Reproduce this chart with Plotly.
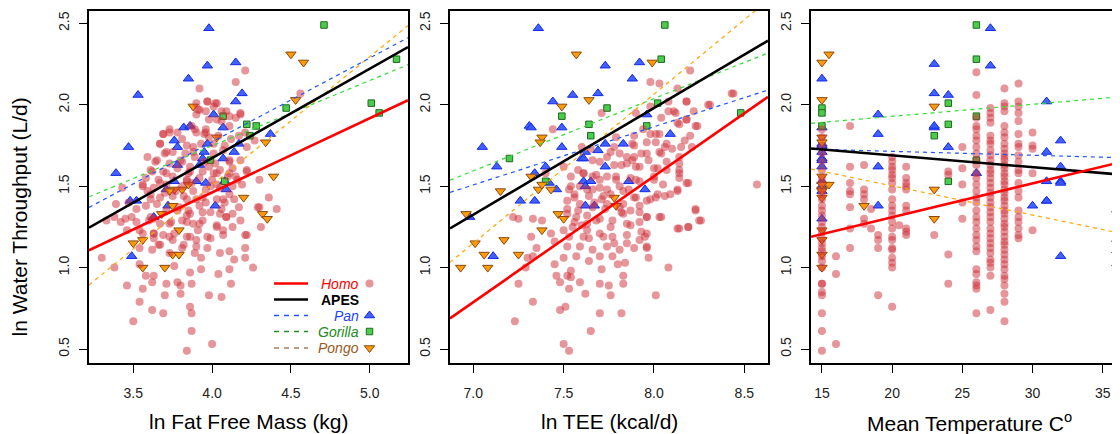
import plotly.graph_objects as go

# ---------------- data ----------------
# Homo, panel 1: ln Fat Free Mass vs ln water throughput
homo_ffm = [4.21,4.15,3.92,4.56,3.97,4.03,4.01,3.90,3.92,3.96,4.06,4.09,4.18,3.90,4.06,4.15,3.98,4.03,4.11,3.73,
            3.69,3.73,3.95,3.90,3.98,4.04,4.17,4.21,4.27,3.81,3.67,3.93,4.01,3.88,3.70,3.75,3.83,3.89,4.01,4.11,
            4.18,3.65,3.73,3.81,3.61,3.69,3.78,3.85,3.94,4.01,4.05,4.13,4.22,3.58,3.66,3.75,3.84,3.92,4.00,4.15,
            4.30,3.43,3.56,3.63,3.71,3.81,3.88,3.96,4.05,4.13,4.19,3.61,3.67,3.75,3.84,3.94,4.03,4.11,4.41,4.29,
            3.39,3.47,3.52,3.58,3.65,3.71,3.79,3.85,3.92,3.99,4.06,4.13,4.17,3.33,3.38,3.45,3.52,3.60,3.67,3.74,
            3.81,3.88,3.94,4.03,4.09,4.13,4.31,3.42,3.46,3.54,3.63,3.69,3.76,3.84,3.90,3.99,4.07,4.21,3.66,3.75,
            3.54,3.62,3.73,3.81,3.89,3.97,4.05,4.11,4.21,3.93,4.14,4.21,3.30,3.38,3.54,3.76,3.93,4.11,4.26,4.04,
            3.86,3.58,3.63,3.62,3.71,3.78,3.80,3.87,4.12,3.56,3.46,3.80,3.70,3.98,4.06,3.54,3.86,3.62,3.69,3.87,
            3.50,3.87,4.00,3.84,3.95,3.86,3.98,3.77,3.70,3.59,3.63,3.49,3.96,4.08,3.87,3.99,3.84,3.91,3.56,3.63,
            4.10,4.07,4.12,3.96,3.87,4.36,
            3.97,4.02,3.91,4.11,4.18,3.69,3.78,3.89,3.96,3.67,3.71,3.84,3.88,4.08,4.22,3.59,3.64,3.80,4.02,4.11,
            4.22,3.62,3.71,3.86,4.03,4.11,3.56,3.67,3.84,4.03,4.16,3.61,3.82,3.90,4.07,4.14,3.78,3.86,3.94,4.05,
            4.09,3.61,3.73,3.84,3.92,4.03,4.22,3.63,3.73,3.86,3.97,4.07,3.67,3.82,3.90,4.30,4.18]
homo_wt1 = [2.21,2.14,2.10,2.07,2.02,2.01,1.99,2.01,1.97,1.96,1.96,1.96,1.95,1.94,1.90,1.92,1.91,1.91,1.87,1.85,
            1.82,1.83,1.82,1.83,1.80,1.81,1.81,1.83,1.78,1.79,1.76,1.76,1.76,1.74,1.70,1.71,1.70,1.68,1.70,1.66,
            1.66,1.66,1.64,1.65,1.60,1.59,1.61,1.58,1.59,1.58,1.60,1.61,1.59,1.55,1.54,1.56,1.54,1.55,1.54,1.56,
            1.54,1.49,1.51,1.49,1.51,1.50,1.47,1.48,1.49,1.50,1.51,1.45,1.43,1.44,1.42,1.43,1.42,1.45,1.36,1.37,
            1.39,1.40,1.36,1.38,1.39,1.35,1.37,1.35,1.38,1.34,1.36,1.33,1.37,1.29,1.31,1.30,1.28,1.29,1.27,1.28,
            1.29,1.27,1.29,1.25,1.31,1.25,1.25,1.28,1.23,1.23,1.21,1.20,1.21,1.19,1.17,1.18,1.20,1.20,1.14,1.17,
            1.12,1.11,1.09,1.12,1.09,1.12,1.09,1.10,1.12,1.06,1.05,1.06,1.06,1.00,1.02,1.01,0.99,0.99,1.00,0.96,
            0.97,0.95,0.95,0.91,0.90,0.91,0.89,0.90,0.90,0.87,0.89,0.84,0.83,0.83,0.82,0.79,0.76,0.74,0.72,0.72,
            0.67,0.61,0.53,0.49,1.65,1.62,1.62,1.47,1.46,1.47,1.30,1.31,1.40,1.40,1.52,1.50,1.32,1.23,1.21,1.18,
            1.56,1.72,1.79,1.85,1.87,1.43,
            2.02,2.01,1.97,1.93,1.94,1.82,1.83,1.85,1.83,1.76,1.71,1.75,1.71,1.75,1.74,1.68,1.65,1.66,1.64,1.65,
            1.60,1.59,1.58,1.59,1.58,1.58,1.50,1.52,1.53,1.51,1.54,1.42,1.44,1.42,1.42,1.42,1.35,1.33,1.34,1.33,
            1.31,1.31,1.27,1.28,1.27,1.26,1.20,1.21,1.19,1.19,1.19,1.23,1.14,1.14,1.13,1.37,1.29]

# Homo, panel 2: ln TEE vs ln water throughput
homo_tee = [8.20,7.98,8.13,8.43,8.31,8.18,8.08,7.98,8.11,8.22,7.90,7.71,8.04,8.18,8.23,8.14,7.44,8.01,7.94,7.89,
            7.79,8.06,8.15,8.20,8.01,7.89,7.96,8.04,7.89,7.81,7.74,7.65,7.60,7.70,7.78,7.85,7.92,8.00,8.07,8.14,
            8.14,8.18,8.13,8.57,7.50,7.61,7.66,7.74,7.79,7.87,7.92,8.00,8.05,7.54,7.56,7.63,7.70,7.76,7.83,7.89,
            7.96,8.01,8.09,7.52,7.59,7.66,7.74,7.81,7.87,7.92,8.23,7.52,7.57,7.63,7.70,7.77,7.85,7.92,7.96,8.04,
            7.22,7.25,7.33,7.38,7.50,7.55,7.63,7.70,7.77,7.85,7.92,7.96,8.13,8.19,8.26,7.32,7.45,7.52,7.59,7.66,
            7.74,7.81,7.89,7.96,7.35,7.30,7.50,7.57,7.64,7.70,7.77,7.84,7.97,7.29,7.45,7.54,7.71,7.80,8.08,7.46,
            7.52,7.54,7.83,7.25,7.48,7.59,7.70,7.75,7.83,7.53,7.62,7.76,8.01,7.33,7.48,7.51,7.70,7.82,7.23,7.65,
            7.50,7.53,7.33,7.43,7.40,7.68,7.72,7.82,7.58,7.64,7.88,7.93,7.67,7.86,8.10,7.60,
            8.03,8.18,8.30,8.44,8.08,8.12,8.18,8.24,8.13,8.03,7.98,8.07,8.17,8.21,7.96,7.88,7.78,8.03,8.14,7.93,
            7.85,7.76,7.66,7.97,8.07,7.82,7.90,8.02,8.14,7.54,7.61,7.70,7.79,7.90,8.00,8.14,8.19,7.53,7.59,7.66,
            7.74,7.81,8.02,8.06,8.13,7.56,7.64,7.71,7.83,7.90,7.98,7.52,7.58,7.73,7.83,7.92,8.23,7.56,7.63,7.68,
            7.76,7.87,7.96,8.03,8.14,8.19,8.25,7.53,7.61,7.72,7.78,7.85,7.95,7.96]
homo_wt2 = [2.21,2.14,2.10,2.07,2.00,2.02,2.02,1.99,1.96,1.96,1.95,1.95,1.92,1.91,1.87,1.88,1.85,1.82,1.85,1.81,
            1.80,1.74,1.74,1.81,1.77,1.75,1.70,1.70,1.68,1.70,1.68,1.73,1.74,1.65,1.63,1.64,1.62,1.61,1.60,1.64,
            1.58,1.52,1.48,1.51,1.62,1.58,1.56,1.56,1.54,1.55,1.53,1.54,1.51,1.50,1.45,1.48,1.49,1.45,1.47,1.43,
            1.41,1.43,1.45,1.41,1.39,1.37,1.39,1.37,1.35,1.38,1.36,1.33,1.31,1.32,1.30,1.29,1.27,1.28,1.31,1.31,
            1.31,1.30,1.30,1.29,1.23,1.25,1.23,1.21,1.19,1.20,1.17,1.21,1.24,1.25,1.29,1.19,1.16,1.13,1.13,1.11,
            1.13,1.11,1.12,1.12,1.12,1.06,1.06,1.07,1.04,1.07,1.07,1.03,1.06,1.00,1.02,0.98,0.99,1.02,1.00,0.95,
            0.95,0.94,0.95,0.90,0.91,0.91,0.90,0.89,0.90,0.87,0.84,0.83,0.83,0.79,0.74,0.76,0.72,0.72,0.67,0.61,
            0.53,0.49,1.07,1.21,1.58,1.57,1.44,1.34,1.60,1.18,1.66,1.22,1.40,1.48,1.73,1.26,
            2.13,2.02,2.00,2.07,1.96,1.95,1.91,1.87,1.89,1.82,1.82,1.76,1.78,1.74,1.77,1.76,1.74,1.71,1.68,1.70,
            1.68,1.71,1.66,1.66,1.65,1.63,1.62,1.61,1.60,1.56,1.58,1.54,1.56,1.54,1.56,1.55,1.52,1.48,1.50,1.48,
            1.48,1.50,1.45,1.44,1.47,1.43,1.44,1.42,1.39,1.43,1.42,1.36,1.35,1.36,1.33,1.34,1.35,1.28,1.27,1.29,
            1.25,1.26,1.31,1.31,1.24,1.25,1.29,1.19,1.19,1.19,1.15,1.15,1.19,1.13]

# Homo, panel 3: mean temperature (columns) vs ln water throughput
homo_temp_levels = [15, 16, 17, 18, 18.5, 19, 20, 20.5, 21, 23, 24, 25, 26, 27, 28, 29, 30]
homo_wt3_by_level = [
    [0.49,0.61,0.72,0.83,0.85,0.90,0.90,1.00,1.04,1.07,1.10,1.12,1.15,1.18,1.22,1.25,1.28,1.32,1.35,1.38,
     1.42,1.45,1.48,1.52,1.55,1.60,1.65,1.70,1.75,1.80,1.85],
    [1.07,0.96,0.53],
    [1.87,1.62,1.52,1.47,1.45,1.37,1.24,1.12],
    [1.63,1.48,1.45,1.42,1.30,1.27],
    [1.36,1.24],
    [1.20,1.17,1.12,0.83],
    [1.68,1.65,1.62,1.60,1.57,1.55,1.52,1.48,1.42,1.38,1.35,1.32,1.28,1.24,1.19,1.17,1.12,1.11,1.06,1.03,
     1.00,0.76],
    [1.26],
    [1.62,1.55,1.52,1.50,1.48,1.38,1.35,1.24,1.22,1.20],
    [1.20],
    [1.59,1.57,1.08,0.90],
    [1.74,1.61,1.51,1.40,1.30],
    [2.20,2.06,1.92,1.87,1.85,1.81,1.78,1.74,1.70,1.66,1.63,1.58,1.55,1.51,1.47,1.43,1.40,1.35,1.31,1.28,
     1.24,1.20,1.17,1.13,1.10,0.99,0.96,0.91,0.89,0.87,0.72],
    [1.98,1.95,1.92,1.89,1.81,1.78,1.76,1.72,1.69,1.66,1.63,1.60,1.58,1.55,1.52,1.49,1.46,1.43,1.40,1.37,
     1.34,1.31,1.28,1.24,1.21,1.18,1.15,1.12,1.09,1.05,1.03,1.00,0.95,0.74],
    [2.10,2.01,1.99,1.96,1.87,1.83,1.80,1.76,1.73,1.70,1.68,1.66,1.63,1.61,1.58,1.56,1.53,1.51,1.48,1.46,
     1.43,1.41,1.38,1.35,1.33,1.30,1.27,1.25,1.22,1.19,1.16,1.14,1.11,1.08,1.05,1.02,0.99,0.95,0.93,0.89,
     0.84,0.79,0.67],
    [2.13,2.02,1.99,1.95,1.90,1.82,1.76,1.74,1.69,1.65,1.60,1.58,1.52,1.47,1.43,1.35,1.31,1.28,1.24,1.20,
     1.18],
    [1.83,1.75,1.73,1.58,1.23],
]

# Pan
pan_ffm = [3.98,3.97,4.15,3.85,3.53,4.19,4.15,4.01,3.82,3.86,4.07,3.47,3.76,3.78,3.97,3.95,4.14,4.17,4.37,3.39,
           3.78,3.92,3.94,4.07,3.48,3.52,3.76,3.90,3.96,4.08,4.09,3.71,3.72,4.02,3.63,3.49]
pan_wt1 = [2.47,2.24,2.26,2.16,2.06,2.07,2.02,1.94,1.86,1.87,1.86,1.74,1.78,1.74,1.76,1.71,1.71,1.76,1.82,1.58,
           1.63,1.63,1.67,1.67,1.41,1.41,1.53,1.53,1.52,1.53,1.48,1.48,1.38,1.38,1.31,1.07]
pan_tee = [7.36,7.73,7.92,7.88,7.55,7.69,7.44,7.96,7.31,7.32,7.49,8.09,7.05,7.49,7.73,7.83,7.69,7.60,7.61,7.62,
           7.13,7.40,7.34,7.73,7.42,7.46,7.61,7.65,7.62,7.86,7.95,7.26,7.34,7.62,7.67,6.98,7.11]
pan_wt2 = [2.47,2.24,2.26,2.16,2.06,2.07,2.02,1.94,1.87,1.86,1.86,1.82,1.74,1.74,1.76,1.76,1.72,1.67,1.67,1.71,
           1.62,1.62,1.58,1.62,1.52,1.48,1.53,1.53,1.50,1.53,1.48,1.41,1.41,1.38,1.38,1.31,1.07]
pan_temp = [15,23,27,27,23,24,31,19,19,23,23,24,15,15,15,15,15,15,15,15,15,15,19,19,26,31,32,32,32,32,31,31,31,30,
            32,15,15]
pan_wt3 = [2.16,2.25,2.47,2.24,2.07,2.06,2.02,1.94,1.82,1.86,1.87,1.74,1.86,1.76,1.74,1.71,1.67,1.66,1.62,1.53,
           1.47,1.30,1.62,1.38,1.58,1.71,1.78,1.62,1.53,1.52,1.53,1.41,1.41,1.38,1.07,1.75,1.50]

# Gorilla
gor_ffm = [4.71,5.17,5.01,5.06,4.47,4.07,4.22,4.28,4.24,3.99,4.08]
gor_wt1 = [2.49,2.28,2.01,1.95,1.98,1.93,1.88,1.87,1.81,1.66,1.53]
gor_tee = [8.06,8.04,7.74,8.02,7.49,7.64,7.65,7.96,8.48,7.20,7.40]
gor_wt2 = [2.49,2.28,1.98,2.01,1.93,1.88,1.81,1.87,1.95,1.67,1.53]
gor_temp = [26,26,15,15,15,24,24,23,26,26,24]
gor_wt3 = [2.49,2.28,1.98,1.95,1.87,2.01,1.88,1.81,1.93,1.66,1.53]

# Pongo
pon_ffm = [4.50,4.58,4.53,3.88,4.03,4.34,4.39,3.85,3.81,3.76,3.73,3.75,3.68,4.20,4.32,4.35,3.79,3.50,3.56,3.75,
           3.79,3.56,3.70]
pon_wt1 = [2.31,2.26,2.03,1.99,1.80,1.77,1.56,1.51,1.48,1.48,1.47,1.38,1.33,1.43,1.33,1.30,1.23,1.15,1.17,1.08,
           1.08,1.00,1.00]
pon_tee = [7.57,7.99,7.64,7.49,7.38,7.37,7.32,7.36,7.43,7.15,7.38,7.78,7.79,7.47,7.50,6.96,7.38,7.01,7.17,7.06,
           7.25,6.93,7.08]
pon_wt2 = [2.31,2.26,2.03,1.99,1.80,1.77,1.56,1.48,1.48,1.47,1.51,1.43,1.38,1.33,1.30,1.33,1.23,1.15,1.17,1.08,
           1.08,1.00,1.00]
pon_temp = [15,15.5,15,15,15,23,15,15.5,15,23,18,23,15,15,15,15,36,36,36,36,15,15,15]
pon_wt3 = [2.26,2.31,2.03,1.80,1.77,1.99,1.56,1.51,1.48,1.48,1.38,1.30,1.23,1.17,1.08,1.00,1.33,1.15,1.08,1.00,
           1.43,1.47,1.51]

# fitted regression lines: (intercept, slope) per panel, order Homo, APES, Pan, Gorilla, Pongo
fit_ffm = [(-0.358, 0.455), (-0.519, 0.548), (-0.288, 0.515), (0.144, 0.401), (-1.640, 0.787)]
fit_tee = [(-4.623, 0.773), (-3.260, 0.655), (-0.991, 0.357), (-1.514, 0.444), (-5.255, 0.915)]
fit_temp = [(0.893, 0.0208), (1.835, -0.00727), (1.762, -0.0024), (1.781, 0.0074), (1.860, -0.0179)]

x_ticks = [[3.5, 4.0, 4.5, 5.0], [7.0, 7.5, 8.0, 8.5], [15, 20, 25, 30, 35]]
x_tick_text = [["3.5", "4.0", "4.5", "5.0"], ["7.0", "7.5", "8.0", "8.5"], ["15", "20", "25", "30", "35"]]
y_ticks = [0.5, 1.0, 1.5, 2.0, 2.5]
y_tick_text = ["0.5", "1.0", "1.5", "2.0", "2.5"]
x_titles = ["ln Fat Free Mass (kg)", "ln TEE (kcal/d)", "Mean Temperature C<sup>o</sup>"]
y_title = "ln Water Throughput (L/d)"
legend_names = ["Homo", "APES", "Pan", "Gorilla", "Pongo"]

# ---------------- styling ----------------
# the page body adds an 8 px margin, so the figure is laid out in page pixels minus 8
OFF = 8
PAGE_W, PAGE_H = 1120, 434
W, H = PAGE_W - OFF, PAGE_H - OFF
FONT = "Liberation Sans, Arial, Helvetica, sans-serif"


def px(xp):
    return (xp - OFF) / W


def py(yp):
    return 1 - (yp - OFF) / H


x_ranges = [[3.219, 5.243], [6.871, 8.631], [14.22, 36.23]]
y_range = [0.414, 2.576]
x_domains = [[px(89), px(408)], [px(450), px(768)], [px(811), 1.0]]
y_domain = [py(363), py(11)]

homo_style = dict(color="rgba(205,45,55,0.5)", size=8, line=dict(width=0))
pan_style = dict(symbol="triangle-up", color="rgba(55,90,245,0.95)", size=9, line=dict(color="#1428f0", width=1))
gor_style = dict(symbol="square", color="#4ccc4c", size=6.5, line=dict(color="#1d6b1d", width=1))
pon_style = dict(symbol="triangle-down", color="#ff9a0a", size=9, line=dict(color="#8a4a10", width=1))
line_styles = [dict(color="#ff0000", width=2.6), dict(color="#000000", width=2.6),
               dict(color="#1f55ff", width=1.2, dash="4px,4px"),
               dict(color="#33dd33", width=1.2, dash="4px,4px"),
               dict(color="#ffa500", width=1.2, dash="4px,4px")]

fig = go.Figure()

homo_temp = []
homo_wt3 = []
for t, ys in zip(homo_temp_levels, homo_wt3_by_level):
    for v in ys:
        homo_temp.append(t)
        homo_wt3.append(v)

panels = [
    (homo_ffm, homo_wt1, pan_ffm, pan_wt1, gor_ffm, gor_wt1, pon_ffm, pon_wt1, fit_ffm),
    (homo_tee, homo_wt2, pan_tee, pan_wt2, gor_tee, gor_wt2, pon_tee, pon_wt2, fit_tee),
    (homo_temp, homo_wt3, pan_temp, pan_wt3, gor_temp, gor_wt3, pon_temp, pon_wt3, fit_temp),
]

for i, (hx, hy, pxs, pys, gx, gy, ox, oy, fits) in enumerate(panels):
    xa = "x" if i == 0 else f"x{i+1}"
    ya = "y" if i == 0 else f"y{i+1}"
    fig.add_trace(go.Scatter(x=pxs, y=pys, mode="markers", marker=pan_style, xaxis=xa, yaxis=ya, showlegend=False))
    fig.add_trace(go.Scatter(x=gx, y=gy, mode="markers", marker=gor_style, xaxis=xa, yaxis=ya, showlegend=False))
    fig.add_trace(go.Scatter(x=ox, y=oy, mode="markers", marker=pon_style, xaxis=xa, yaxis=ya, showlegend=False))
    fig.add_trace(go.Scatter(x=hx, y=hy, mode="markers", marker=homo_style, xaxis=xa, yaxis=ya, showlegend=False))
    x0, x1 = x_ranges[i]
    for (a, b), ls in zip(fits[::-1], line_styles[::-1]):
        fig.add_trace(go.Scatter(x=[x0, x1], y=[a + b * x0, a + b * x1], mode="lines", line=ls,
                                 xaxis=xa, yaxis=ya, showlegend=False, hoverinfo="skip"))

axis_common = dict(showgrid=False, zeroline=False, showline=True, linecolor="black", linewidth=1.6,
                   ticks="outside", ticklen=8, tickwidth=1.4, tickcolor="black",
                   tickfont=dict(family=FONT, size=14, color="#222"))
layout = dict(width=W, height=H, margin=dict(l=0, r=0, t=0, b=0),
              paper_bgcolor="white", plot_bgcolor="rgba(0,0,0,0)", showlegend=False,
              font=dict(family=FONT))
for i in range(3):
    sx = "" if i == 0 else str(i + 1)
    layout["xaxis" + sx] = dict(axis_common, domain=x_domains[i], range=x_ranges[i], anchor="y" + sx,
                                tickvals=x_ticks[i], ticktext=x_tick_text[i], mirror=True,
                                ticklabelstandoff=8, automargin=False)
    layout["yaxis" + sx] = dict(axis_common, domain=y_domain, range=y_range, anchor="x" + sx,
                                tickvals=y_ticks, ticktext=y_tick_text, tickangle=-90,
                                mirror=(i < 2), ticklabelstandoff=5, automargin=False)

# overlay axis in page-pixel units for the legend keys
layout["xaxis4"] = dict(domain=[0, 1], range=[OFF, OFF + W], visible=False, anchor="y4")
layout["yaxis4"] = dict(domain=[0, 1], range=[OFF + H, OFF], visible=False, anchor="x4")
fig.update_layout(**layout)

annotations = []
title_centers = [248.5, 609, 969.5]
for i in range(3):
    annotations.append(dict(text=x_titles[i], x=px(title_centers[i]), y=py(421.5), xref="paper", yref="paper",
                            showarrow=False, xanchor="center", yanchor="middle",
                            font=dict(family=FONT, size=21, color="black")))
annotations.append(dict(text=y_title, x=px(19), y=py(217.5), xref="paper", yref="paper", textangle=-90,
                        showarrow=False, xanchor="center", yanchor="middle",
                        font=dict(family=FONT, size=21, color="black")))

# legend (R style: line, right-aligned label, symbol)
leg_rows = [283.5, 299.5, 315.5, 331.5, 348.0]
leg_text_colors = ["#ff0000", "#000000", "#2244ff", "#228b22", "#9a5a22"]
leg_line_styles = [dict(color="#ff0000", width=2.6), dict(color="#000000", width=2.6),
                   dict(color="#1f55ff", width=1.5, dash="5px,5px"),
                   dict(color="#228b22", width=1.5, dash="5px,5px"),
                   dict(color="#a67b5b", width=1.5, dash="5px,5px")]
shapes = []
for name, yy, col, ls in zip(legend_names, leg_rows, leg_text_colors, leg_line_styles):
    txt = f"<b>{name}</b>" if name == "APES" else f"<i>{name}</i>"
    annotations.append(dict(text=txt, x=px(361), y=py(yy), xref="paper", yref="paper", showarrow=False,
                            xanchor="right", yanchor="middle", font=dict(family=FONT, size=14, color=col)))
    shapes.append(dict(type="line", xref="paper", yref="paper", x0=px(274), x1=px(308),
                       y0=py(yy), y1=py(yy), line=ls))
fig.update_layout(annotations=annotations, shapes=shapes)

leg_markers = [(homo_style, 0), (pan_style, 2), (gor_style, 3), (pon_style, 4)]
for st, k in leg_markers:
    fig.add_trace(go.Scatter(x=[369.5], y=[leg_rows[k]], mode="markers", marker=st, xaxis="x4", yaxis="y4",
                             showlegend=False, hoverinfo="skip"))

fig.write_html("out.html")
